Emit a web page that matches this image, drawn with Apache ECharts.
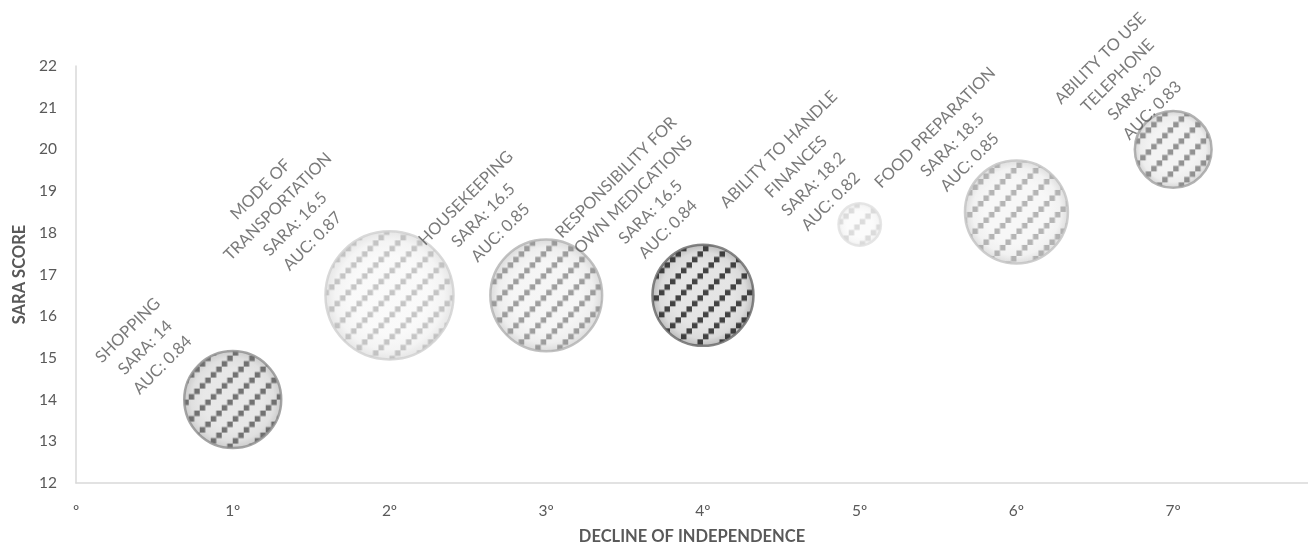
<!DOCTYPE html>
<html>
<head>
<meta charset="utf-8">
<script src="https://cdn.jsdelivr.net/npm/echarts@6/dist/echarts.min.js"></script>
<style>
html,body{margin:0;padding:0;background:#fff;}
#chart{width:1308px;height:547px;}
</style>
</head>
<body>
<div id="chart"></div>
<script>
// ---- data ----
const categories = [
  'SHOPPING',
  'MODE OF\nTRANSPORTATION',
  'HOUSEKEEPING',
  'RESPONSIBILITY FOR\nOWN MEDICATIONS',
  'ABILITY TO HANDLE\nFINANCES',
  'FOOD PREPARATION',
  'ABILITY TO USE\nTELEPHONE'
];
const declineRank = [1, 2, 3, 4, 5, 6, 7];
const saraScore = [14, 16.5, 16.5, 16.5, 18.2, 18.5, 20];
const aucValue = ['0.84', '0.87', '0.85', '0.84', '0.82', '0.85', '0.83'];
const bubbleSize = [94, 164, 125, 102, 18, 106, 59];
const xTickLabels = ['º', '1º', '2º', '3º', '4º', '5º', '6º', '7º'];

// ---- styles (per bubble) ----
const bubbleStyles = [
  {dot: '#555555', border: '#8f8f8f', c0: '#e2e2e2', c1: '#d8d8d8', c2: '#c0c0c0', lx: -87.5, ly: -52},
  {dot: '#b8b8b8', border: '#d0d0d0', c0: '#f8f8f8', c1: '#f1f1f1', c2: '#e0e0e0', lx: -103, ly: -80},
  {dot: '#888888', border: '#b2b2b2', c0: '#f3f3f3', c1: '#eaeaea', c2: '#d2d2d2', lx: -63, ly: -80},
  {dot: '#1a1a1a', border: '#666666', c0: '#dedede', c1: '#d2d2d2', c2: '#adadad', lx: -61, ly: -92},
  {dot: '#d4d4d4', border: '#e0e0e0', c0: '#fafafa', c1: '#f4f4f4', c2: '#e6e6e6', lx: -55, ly: -49},
  {dot: '#a4a4a4', border: '#c2c2c2', c0: '#f5f5f5', c1: '#eeeeee', c2: '#d6d6d6', lx: -64, ly: -67},
  {dot: '#7a7a7a', border: '#a0a0a0', c0: '#f0f0f0', c1: '#e8e8e8', c2: '#cacaca', lx: -47, ly: -65}
];

function sizeToDiameter(v) { return Math.sqrt(v) * 10; }

function makePattern(color) {
  const T = 22, step = 5.5, s = 5.5;
  const c = document.createElement('canvas');
  c.width = T; c.height = T;
  const ctx = c.getContext('2d');
  ctx.fillStyle = color;
  for (let i = 0; i < 4; i++) {
    const x = i * step;
    const y = T - (i + 1) * step;
    ctx.fillRect(x, y, s, s);
  }
  return c;
}

const fontFamily = 'Lato, "Open Sans", sans-serif';
const textColor = '#595959';

const baseData = [], patternData = [], labelData = [];
for (let i = 0; i < categories.length; i++) {
  const st = bubbleStyles[i];
  const d = sizeToDiameter(bubbleSize[i]);
  baseData.push({
    value: [declineRank[i], saraScore[i]],
    symbolSize: d,
    itemStyle: {
      color: {
        type: 'radial', x: 0.5, y: 0.5, r: 0.5,
        colorStops: [
          {offset: 0, color: st.c0},
          {offset: 0.6, color: st.c0},
          {offset: 0.85, color: st.c1},
          {offset: 1, color: st.c2}
        ]
      }
    }
  });
  patternData.push({
    value: [declineRank[i], saraScore[i]],
    symbolSize: d,
    itemStyle: {
      color: {image: makePattern(st.dot), repeat: 'repeat', scaleX: 2 / d, scaleY: 2 / d},
      borderColor: st.border,
      borderWidth: 2.5
    }
  });
  labelData.push({
    value: [declineRank[i], saraScore[i]],
    symbolSize: 1,
    label: {
      position: [0.5 + st.lx, 0.5 + st.ly]
    }
  });
}

const chart = echarts.init(document.getElementById('chart'), null, {renderer: 'canvas'});
chart.setOption({
  animation: false,
  backgroundColor: '#ffffff',
  grid: {left: 76, right: 0, top: 66, bottom: 64, containLabel: false, outerBoundsMode: 'none'},
  xAxis: {
    type: 'value',
    min: 0,
    max: 7.86,
    interval: 1,
    name: 'DECLINE OF INDEPENDENCE',
    nameLocation: 'middle',
    nameGap: 45,
    nameTextStyle: {color: textColor, fontFamily: fontFamily, fontWeight: 'bold', fontSize: 16.5},
    axisLine: {show: true, lineStyle: {color: '#d9d9d9', width: 1.5}},
    axisTick: {show: false},
    splitLine: {show: false},
    axisLabel: {
      color: textColor, fontFamily: fontFamily, fontSize: 15.5, margin: 20,
      showMaxLabel: false,
      formatter: function (v) {
        return Number.isInteger(v) && xTickLabels[v] !== undefined ? xTickLabels[v] : '';
      }
    }
  },
  yAxis: {
    type: 'value',
    min: 12,
    max: 22,
    interval: 1,
    name: 'SARA SCORE',
    nameLocation: 'middle',
    nameGap: 45,
    nameRotate: 90,
    nameTextStyle: {color: textColor, fontFamily: fontFamily, fontWeight: 'bold', fontSize: 16.5},
    axisLine: {show: true, lineStyle: {color: '#d9d9d9', width: 1.5}},
    axisTick: {show: false},
    splitLine: {show: false},
    axisLabel: {color: textColor, fontFamily: fontFamily, fontSize: 15.5, margin: 19}
  },
  series: [
    {
      type: 'scatter', z: 2, silent: true, symbol: 'circle',
      data: baseData
    },
    {
      type: 'scatter', z: 3, silent: true, symbol: 'circle',
      data: patternData
    },
    {
      type: 'scatter', z: 4, silent: true, symbol: 'circle',
      itemStyle: {color: 'rgba(0,0,0,0)'},
      data: labelData,
      label: {
        show: true,
        rotate: 45,
        align: 'center',
        verticalAlign: 'middle',
        color: textColor,
        fontFamily: fontFamily,
        fontSize: 16.5,
        lineHeight: 24.5,
        formatter: function (p) {
          const i = p.dataIndex;
          return categories[i] + '\nSARA: ' + saraScore[i] + '\nAUC: ' + aucValue[i];
        }
      }
    }
  ]
});
</script>
</body>
</html>
